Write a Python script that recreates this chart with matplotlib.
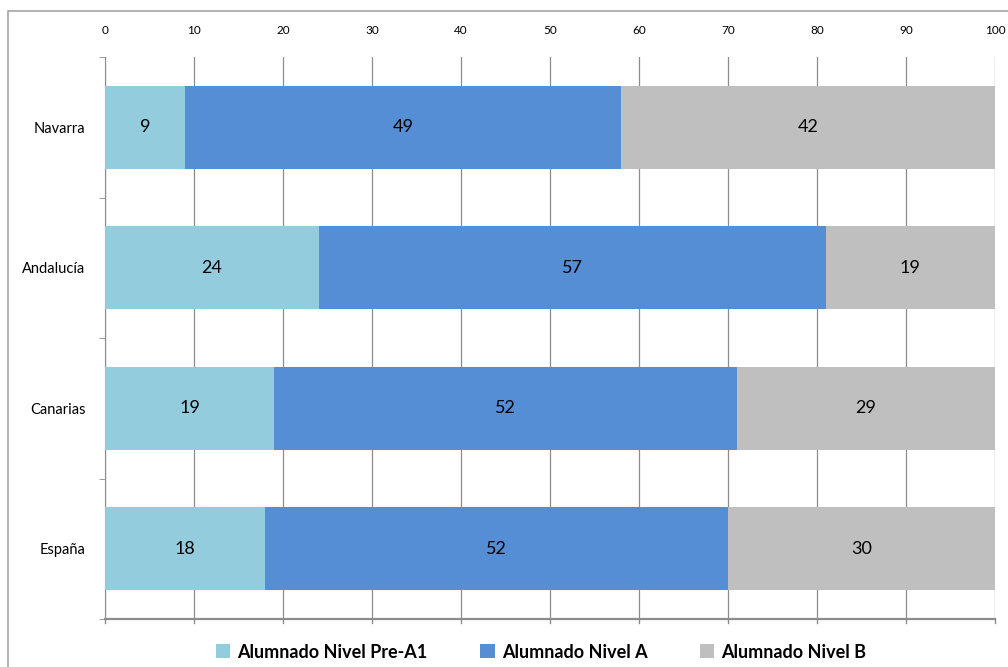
import numpy as np
import matplotlib.pyplot as plt
from matplotlib.patches import Rectangle

# --------------------------------------------------
# Data
# --------------------------------------------------

regions = ["Navarra", "Andalucía", "Canarias", "España"]
pre_a1 = [9, 24, 19, 18]
nivel_a = [49, 57, 52, 52]
nivel_b = [42, 19, 29, 30]

series_names = ["Alumnado Nivel Pre-A1", "Alumnado Nivel A", "Alumnado Nivel B"]
colors = ["#93CDDD", "#558ED5", "#BFBFBF"]

# --------------------------------------------------
# Plot
# --------------------------------------------------

plt.rcParams["font.family"] = ["Lato", "DejaVu Sans"]

fig = plt.figure(figsize=(10.08, 6.67), dpi=100)
ax = fig.add_axes([105 / 1008, 1 - 619 / 667, 890 / 1008, 562 / 667])

# outer chart border
fig.patches.append(Rectangle((8 / 1008, -0.1), 1.2, 1.1 - 11 / 667,
                             transform=fig.transFigure, fill=False,
                             edgecolor="#A6A6A6", linewidth=1.2))

y = np.arange(len(regions))
left = np.zeros(len(regions))
for vals, name, col in zip([pre_a1, nivel_a, nivel_b], series_names, colors):
    bars = ax.barh(y, vals, left=left, height=0.59, color=col, label=name,
                   zorder=3)
    for b, v in zip(bars, vals):
        ax.text(b.get_x() + b.get_width() / 2, b.get_y() + b.get_height() / 2,
                str(v), ha="center", va="center", fontsize=13, zorder=4)
    left += np.array(vals)

ax.set_xlim(0, 100)
ax.set_ylim(len(regions) - 0.5, -0.5)
ax.set_xticks(np.arange(0, 101, 10))
ax.xaxis.tick_top()
ax.tick_params(axis="x", length=0, labelsize=8.5, pad=15, colors="black")
ax.grid(axis="x", color="#8C8C8C", linewidth=0.9, zorder=0)

ax.set_yticks(y)
ax.set_yticklabels(regions, fontsize=10.5)
ax.tick_params(axis="y", length=0, pad=14)
ax.set_yticks(np.arange(-0.5, len(regions)), minor=True)
ax.tick_params(axis="y", which="minor", length=4, color="#8C8C8C")

for s in ["top", "right"]:
    ax.spines[s].set_visible(False)
ax.spines["left"].set_color("#8C8C8C")
ax.spines["bottom"].set_color("#8C8C8C")
ax.spines["bottom"].set_linewidth(1.6)

# bottom tick marks drawn as short lines below the axis
for xv in np.arange(0, 101, 10):
    ax.plot([xv, xv], [len(regions) - 0.5, len(regions) - 0.47], color="#8C8C8C",
            linewidth=1, clip_on=False, zorder=5)

ax.legend(loc="upper center", bbox_to_anchor=(0.49, -0.015), ncol=3,
          frameon=False, prop={"weight": "bold", "size": 13},
          handlelength=0.8, handleheight=0.8, columnspacing=2.9,
          handletextpad=0.4)

fig.savefig("out.png", dpi=100)
